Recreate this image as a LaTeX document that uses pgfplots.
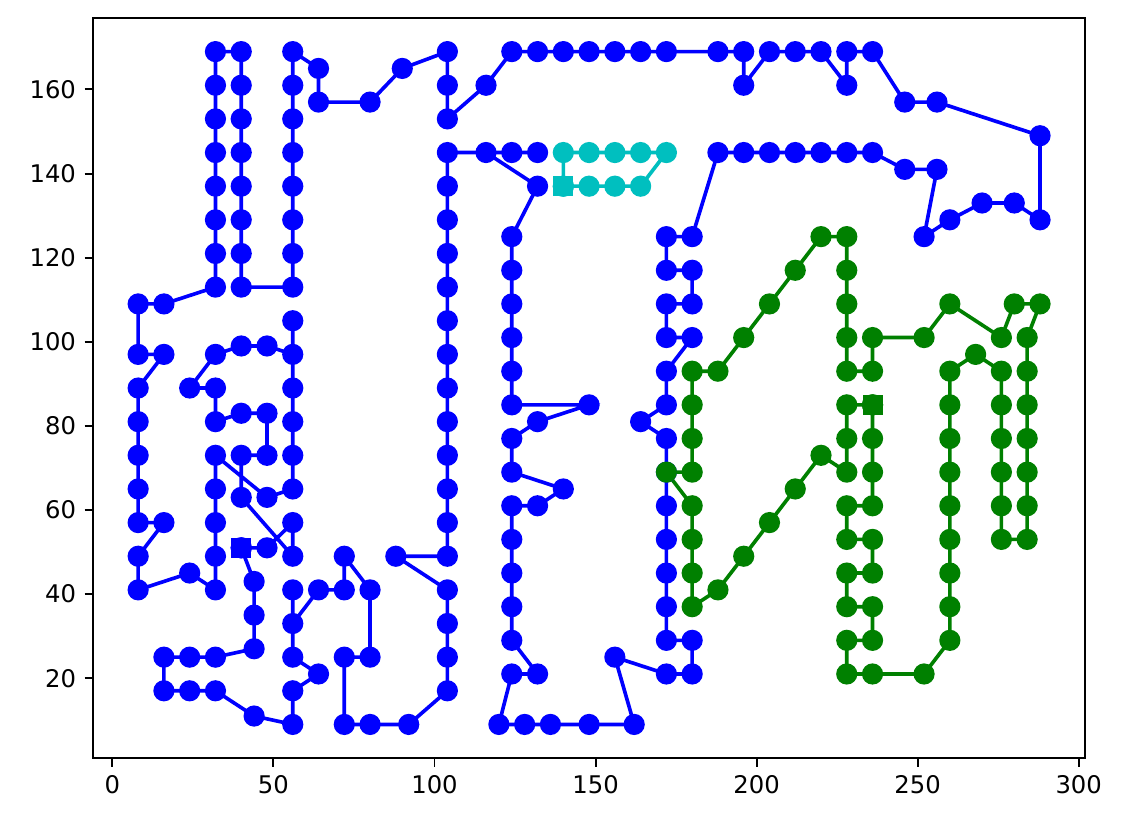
\documentclass[border=0pt]{standalone}
\usepackage{fontspec}
\setmainfont{DejaVu Sans}
\usepackage{pgfplots}
\pgfplotsset{compat=1.18}
\definecolor{mblue}{RGB}{0,0,255}
\definecolor{mgreen}{RGB}{0,128,0}
\definecolor{mcyan}{RGB}{0,191,191}
\begin{document}
\begin{tikzpicture}
\begin{axis}[
  scale only axis,
  width=408.3pt, height=304.6pt,
  xmin=-6, xmax=302, ymin=1, ymax=177,
  xtick={0,50,100,150,200,250,300},
  ytick={20,40,60,80,100,120,140,160},
  tick pos=left,
  tick align=outside,
  major tick length=3.5pt,
  every tick/.style={black, line width=0.8pt},
  axis line style={black, line width=0.8pt},
  /pgf/number format/assume math mode=true,
  tick label style={font=\fontsize{10}{12}\selectfont},
  clip=false,
]
\coordinate (sw) at (rel axis cs:0,0);
\coordinate (ne) at (rel axis cs:1,1);
\addplot[mblue, line width=1.5pt, mark=*, mark size=3.6pt, mark options={solid}] coordinates {
(40,51)(48,51)(56,57)(56,49)(40,63)(40,73)(48,73)(48,83)(40,83)(32,81)(32,89)(24,89)(32,97)(40,99)(48,99)(56,97)(56,105)(56,89)(56,81)(56,73)(56,65)(48,63)(32,73)(32,65)(32,57)(32,49)(32,41)(24,45)(8,41)(8,49)(16,57)(8,57)(8,65)(8,73)(8,81)(8,89)(16,97)(8,97)(8,109)(16,109)(32,113)(32,121)(32,129)(32,137)(32,145)(32,153)(32,161)(32,169)(40,169)(40,161)(40,153)(40,145)(40,137)(40,129)(40,121)(40,113)(56,113)(56,121)(56,129)(56,137)(56,145)(56,153)(56,161)(56,169)(64,165)(64,157)(80,157)(90,165)(104,169)(104,161)(104,153)(116,161)(124,169)(132,169)(140,169)(148,169)(156,169)(164,169)(172,169)(188,169)(196,169)(196,161)(204,169)(212,169)(220,169)(228,161)(228,169)(236,169)(246,157)(256,157)(288,149)(288,129)(280,133)(270,133)(260,129)(252,125)(256,141)(246,141)(236,145)(228,145)(220,145)(212,145)(204,145)(196,145)(188,145)(180,125)(172,125)(172,117)(180,117)(180,109)(172,109)(172,101)(180,101)(172,93)(172,85)(164,81)(172,77)(172,69)(172,61)(172,53)(172,45)(172,37)(172,29)(180,29)(180,21)(172,21)(156,25)(162,9)(148,9)(136,9)(128,9)(120,9)(124,21)(132,21)(124,29)(124,37)(124,45)(124,53)(124,61)(132,61)(140,65)(124,69)(124,77)(132,81)(148,85)(124,85)(124,93)(124,101)(124,109)(124,117)(124,125)(132,137)(116,145)(124,145)(132,145)(104,145)(104,137)(104,129)(104,121)(104,113)(104,105)(104,97)(104,89)(104,81)(104,73)(104,65)(104,57)(104,49)(88,49)(104,41)(104,33)(104,25)(104,17)(92,9)(80,9)(72,9)(72,25)(80,25)(80,41)(72,49)(72,41)(64,41)(56,33)(56,41)(56,25)(64,21)(56,17)(56,9)(44,11)(32,17)(24,17)(16,17)(16,25)(24,25)(32,25)(44,27)(44,35)(44,43)(40,51)
};
\addplot[mblue, only marks, mark=square*, mark size=3.9pt] coordinates {(40,51)};
\addplot[mgreen, line width=1.5pt, mark=*, mark size=3.6pt, mark options={solid}] coordinates {
(236,85)(236,77)(236,69)(236,61)(228,61)(228,53)(236,53)(236,45)(228,45)(228,37)(236,37)(236,29)(228,29)(228,21)(236,21)(252,21)(260,29)(260,37)(260,45)(260,53)(260,61)(260,69)(260,77)(260,85)(260,93)(268,97)(276,93)(276,85)(276,77)(276,69)(276,61)(276,53)(284,53)(284,61)(284,69)(284,77)(284,85)(284,93)(284,101)(288,109)(280,109)(276,101)(260,109)(252,101)(236,101)(236,93)(228,93)(228,101)(228,109)(228,117)(228,125)(220,125)(212,117)(204,109)(196,101)(188,93)(180,93)(180,85)(180,77)(180,69)(172,69)(180,61)(180,53)(180,45)(180,37)(188,41)(196,49)(204,57)(212,65)(220,73)(228,69)(228,77)(228,85)(236,85)
};
\addplot[mgreen, only marks, mark=square*, mark size=3.9pt] coordinates {(236,85)};
\addplot[mcyan, line width=1.5pt, mark=*, mark size=3.6pt, mark options={solid}] coordinates {
(140,137)(140,145)(148,145)(156,145)(164,145)(172,145)(164,137)(156,137)(148,137)(140,137)
};
\addplot[mcyan, only marks, mark=square*, mark size=3.9pt] coordinates {(140,137)};
\end{axis}
\pgfresetboundingbox
\path ([shift={(-38.3pt,-28pt)}]sw) rectangle ([shift={(16pt,7.4pt)}]ne);
\end{tikzpicture}
\end{document}
